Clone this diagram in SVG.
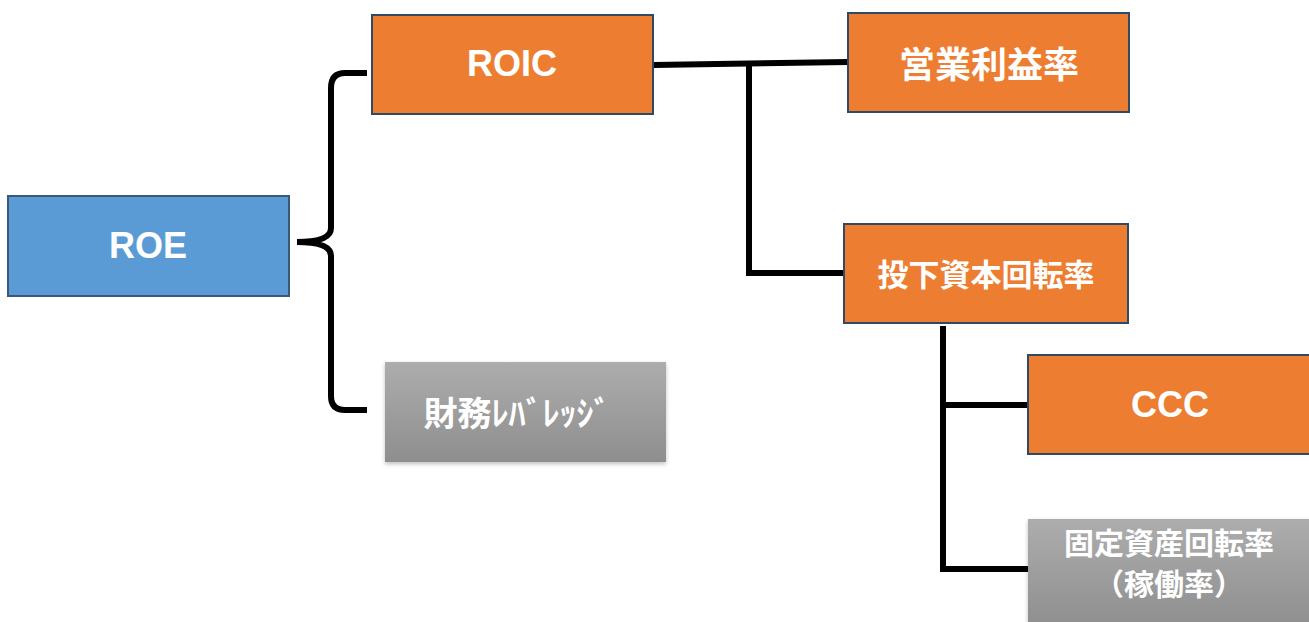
<svg xmlns="http://www.w3.org/2000/svg" width="1309" height="622" viewBox="0 0 1309 622">
<defs>
<linearGradient id="gray" x1="0" y1="0" x2="0" y2="1">
<stop offset="0" stop-color="#ADADAD"/>
<stop offset="1" stop-color="#8E8E8E"/>
</linearGradient>
<filter id="sh" x="-10%" y="-10%" width="120%" height="130%">
<feDropShadow dx="0" dy="2" stdDeviation="2" flood-color="#000" flood-opacity="0.25"/>
</filter>
</defs>
<style>
.orange{fill:#ED7D31;stroke:#2F4A66;stroke-width:2}
.blue{fill:#5B9BD5;stroke:#3A5877;stroke-width:2}
.gray{fill:url(#gray);filter:url(#sh)}
.t{fill:#fff;font-family:"Noto Sans CJK JP","Liberation Sans",sans-serif;font-weight:bold;text-anchor:middle;dominant-baseline:central}
.lat{font-family:"Liberation Sans","Noto Sans CJK JP",sans-serif;font-size:36px}
.conn{fill:none;stroke:#000;stroke-width:6}
</style>
<rect width="1309" height="622" fill="#fff"/>
<g id="connectors">
<path class="conn" d="M367,73 L345,73 Q331,73 331,88 L331,228 Q331,242 297,242 Q331,242 331,256 L331,396 Q331,410 345,410 L367,410"/>
<path class="conn" d="M654,65 L848,62"/>
<path class="conn" d="M749,64 L749,273 L844,273"/>
<path class="conn" d="M943,326 L943,569 L1028,569"/>
<path class="conn" d="M943,405 L1028,405"/>
</g>
<g id="roe">
<rect class="blue" x="8" y="196" width="281" height="100"/>
<text class="t lat" x="148" y="245">ROE</text>
</g>
<g id="roic">
<rect class="orange" x="372" y="15" width="281" height="99"/>
<text class="t lat" x="512" y="63">ROIC</text>
</g>
<g id="leverage">
<rect class="gray" x="385" y="362" width="281" height="100"/>
<text class="t" x="517" y="411" font-size="34">財務ﾚﾊﾞﾚｯｼﾞ</text>
</g>
<g id="margin">
<rect class="orange" x="848" y="13" width="281" height="99"/>
<text class="t" x="989" y="62" font-size="36">営業利益率</text>
</g>
<g id="turnover">
<rect class="orange" x="844" y="224" width="284" height="99"/>
<text class="t" x="986" y="272" font-size="31">投下資本回転率</text>
</g>
<g id="ccc">
<rect class="orange" x="1028" y="355" width="290" height="99"/>
<text class="t lat" x="1170" y="404">CCC</text>
</g>
<g id="fixed">
<rect class="gray" x="1028" y="519" width="290" height="110"/>
<text class="t" x="1169" y="541" font-size="30">固定資産回転率</text>
<text class="t" x="1169" y="582" font-size="30">（稼働率）</text>
</g>
</svg>
